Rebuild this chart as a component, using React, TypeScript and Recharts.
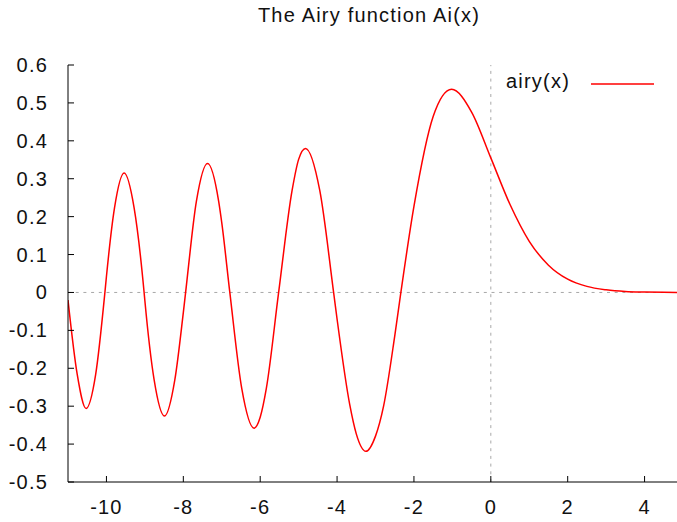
/**
 * AiryChart — Recharts plot of the Airy function Ai(x), gnuplot look.
 */

import { LineChart, Line, XAxis, YAxis, ReferenceLine } from 'recharts';

/** Sample positions (x): zeros, extrema and points between. */
const xValues = [
  -11, -10.76, -10.53, -10.28, -10.04, -10, -9.79, -9.54, -9.28, -9.02, -9, -8.76, -8.49,
  -8.22, -8, -7.94, -7.66, -7.37, -7.08, -7, -6.79, -6.48, -6.16, -6, -5.84, -5.52, -5.17,
  -5, -4.82, -4.45, -4.09, -4, -3.67, -3.5, -3.25, -3, -2.79, -2.5, -2.34, -2, -1.5, -1.02,
  -0.5, 0, 0.5, 1, 1.5, 2, 2.5, 3, 3.5, 4, 4.5, 5,
];

/** Ai(x) at each position above. */
const airyValues = [
  -0.02, -0.216, -0.306, -0.216, 0, 0.042, 0.223, 0.315, 0.223, 0, -0.022, -0.23, -0.326,
  -0.23, -0.053, 0, 0.24, 0.34, 0.24, 0.184, 0, -0.253, -0.358, -0.329, -0.253, 0, 0.269,
  0.351, 0.38, 0.269, 0, -0.07, -0.296, -0.373, -0.419, -0.379, -0.3, -0.115, 0, 0.227,
  0.464, 0.536, 0.476, 0.355, 0.232, 0.135, 0.072, 0.035, 0.016, 0.007, 0.0025, 0.001,
  0.0003, 0.0001,
];

const xTicks = [-10, -8, -6, -4, -2, 0, 2, 4];
const yTicks = [-0.5, -0.4, -0.3, -0.2, -0.1, 0, 0.1, 0.2, 0.3, 0.4, 0.5, 0.6];

const FONT = '"Liberation Sans", Arial, sans-serif';
const FONT_SIZE = 20;
const SPACING = 1.2;
const TICK = 6;
const INK = '#111';

const data = xValues.map((x, i) => ({ x, ai: airyValues[i] }));

function fmt(v: number): string {
  return String(Number(v.toFixed(1)));
}

function BottomTick({ x, y, payload }: any) {
  return (
    <g>
      <line x1={x} x2={x} y1={y} y2={y - TICK} stroke="#000" />
      <text
        x={x}
        y={y + 32}
        textAnchor="middle"
        fontFamily={FONT}
        fontSize={FONT_SIZE}
        letterSpacing={SPACING}
        fill={INK}
      >
        {fmt(payload.value)}
      </text>
    </g>
  );
}

function TopTick({ x, y }: any) {
  return <line x1={x} x2={x} y1={y} y2={y + TICK} stroke="#000" />;
}

function LeftTick({ x, y, payload }: any) {
  return (
    <g>
      <line x1={x} x2={x + TICK} y1={y} y2={y} stroke="#000" />
      <text
        x={x - 20}
        y={y + 7}
        textAnchor="end"
        fontFamily={FONT}
        fontSize={FONT_SIZE}
        letterSpacing={SPACING}
        fill={INK}
      >
        {fmt(payload.value)}
      </text>
    </g>
  );
}

/** gnuplot-style key: label on the left, line sample on the right. */
function KeyBox() {
  return (
    <svg
      width={160}
      height={24}
      style={{ position: 'absolute', top: 74, left: 505, overflow: 'visible' }}
    >
      <text
        x={65}
        y={14}
        textAnchor="end"
        fontFamily={FONT}
        fontSize={FONT_SIZE}
        letterSpacing={SPACING}
        fill={INK}
      >
        airy(x)
      </text>
      <line x1={86} x2={149} y1={10} y2={10} stroke="#ff0000" strokeWidth={1.5} />
    </svg>
  );
}

export default function App() {
  return (
    <div
      style={{
        position: 'absolute',
        left: 0,
        top: 0,
        width: 677,
        height: 522,
        overflow: 'hidden',
        background: '#fff',
      }}
    >
      <div
        style={{
          position: 'absolute',
          top: 4.5,
          left: 0,
          width: 738,
          textAlign: 'center',
          fontFamily: FONT,
          fontSize: FONT_SIZE,
          letterSpacing: SPACING,
          lineHeight: '20px',
          color: INK,
        }}
      >
        The Airy function Ai(x)
      </div>
      <LineChart
        width={700}
        height={522}
        data={data}
        margin={{ top: 65, right: 17, bottom: 0, left: 0 }}
      >
        <XAxis
          dataKey="x"
          type="number"
          domain={[-11, 5]}
          ticks={xTicks}
          allowDataOverflow
          height={40}
          tickSize={0}
          tickMargin={0}
          tickLine={false}
          axisLine={{ stroke: '#000' }}
          tick={<BottomTick />}
          interval={0}
        />
        <XAxis
          xAxisId="top"
          orientation="top"
          dataKey="x"
          type="number"
          domain={[-11, 5]}
          ticks={xTicks}
          allowDataOverflow
          height={0}
          tickSize={0}
          tickMargin={0}
          tickLine={false}
          axisLine={{ stroke: '#000' }}
          tick={<TopTick />}
          interval={0}
        />
        <YAxis
          type="number"
          domain={[-0.5, 0.6]}
          ticks={yTicks}
          allowDataOverflow
          width={68}
          tickSize={0}
          tickMargin={0}
          tickLine={false}
          axisLine={{ stroke: '#000' }}
          tick={<LeftTick />}
          interval={0}
        />
        <ReferenceLine y={0} stroke="#a8a8a8" strokeDasharray="3 4.7" />
        <ReferenceLine x={0} stroke="#a8a8a8" strokeDasharray="3 4.7" />
        <Line
          type="monotone"
          dataKey="ai"
          name="airy(x)"
          stroke="#ff0000"
          strokeWidth={1.5}
          dot={false}
          isAnimationActive={false}
        />
      </LineChart>
      <KeyBox />
    </div>
  );
}
